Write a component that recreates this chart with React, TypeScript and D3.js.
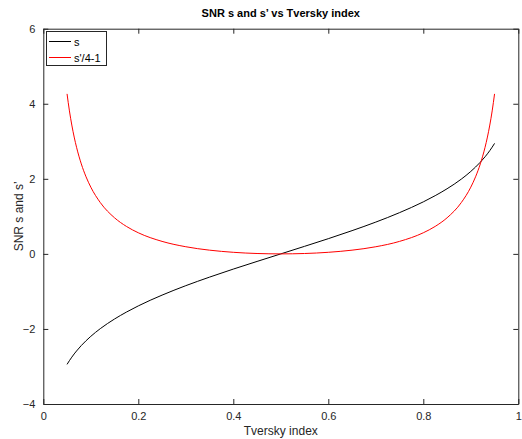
import React, { useEffect, useRef } from 'react';
import * as d3 from 'd3';

// Tversky index samples
const tversky = [
  0.05, 0.055, 0.06, 0.065, 0.07, 0.08, 0.09, 0.1, 0.12, 0.15, 0.175, 0.2, 0.25, 0.3, 0.35, 0.4, 0.45, 0.5,
  0.55, 0.6, 0.65, 0.7, 0.75, 0.8, 0.825, 0.85, 0.88, 0.9, 0.91, 0.92, 0.93, 0.935, 0.94, 0.945, 0.95,
];
// s (black)
const sValues = [
  -2.944, -2.844, -2.752, -2.666, -2.587, -2.442, -2.314, -2.197, -1.992, -1.735, -1.551, -1.386, -1.099,
  -0.847, -0.619, -0.405, -0.201, 0,
  0.201, 0.405, 0.619, 0.847, 1.099, 1.386, 1.551, 1.735, 1.992, 2.197, 2.314, 2.442, 2.587, 2.666, 2.752,
  2.844, 2.944,
];
// s'/4-1 (red)
const sPrimeValues = [
  4.263, 3.81, 3.433, 3.113, 2.84, 2.397, 2.053, 1.778, 1.367, 0.961, 0.732, 0.5625, 0.333, 0.19, 0.099,
  0.042, 0.01, 0,
  0.01, 0.042, 0.099, 0.19, 0.333, 0.5625, 0.732, 0.961, 1.367, 1.778, 2.053, 2.397, 2.84, 3.113, 3.433,
  3.81, 4.263,
];
const xTicks = [0, 0.2, 0.4, 0.6, 0.8, 1];
const yTicks = [-4, -2, 0, 2, 4, 6];
const seriesNames = ['s', "s'/4-1"];
const seriesColors = ['#000000', '#ff0000'];

const W = 522;
const H = 439;
const margin = { left: 43.3, right: 3.7, top: 28.7, bottom: 35 };

const App = () => {
  const svgRef = useRef<SVGSVGElement>(null);

  useEffect(() => {
    const svg = d3.select(svgRef.current);
    svg.selectAll('*').remove();

    const x = d3.scaleLinear().domain([0, 1]).range([margin.left, W - margin.right]);
    const y = d3.scaleLinear().domain([-4, 6]).range([H - margin.bottom, margin.top]);
    const axisColor = '#262626';
    const font = 'Liberation Sans, Arial, sans-serif';

    svg.append('rect').attr('width', W).attr('height', H).attr('fill', '#fff');

    // data lines
    const series = [sValues, sPrimeValues];
    const line = d3
      .line<number>()
      .x((d, i) => x(tversky[i]))
      .y(d => y(d))
      .curve(d3.curveMonotoneX);
    series.forEach((vals, k) => {
      svg
        .append('path')
        .datum(vals)
        .attr('d', line)
        .attr('fill', 'none')
        .attr('stroke', seriesColors[k])
        .attr('stroke-width', 1);
    });

    // axes box with inward ticks
    const tickLen = 5;
    const bottom = svg.append('g').attr('transform', `translate(0,${y(-4)})`)
      .call(d3.axisBottom(x).tickValues(xTicks).tickSizeInner(-tickLen).tickSizeOuter(0).tickPadding(8).tickFormat(d3.format('')));
    const top = svg.append('g').attr('transform', `translate(0,${y(6)})`)
      .call(d3.axisTop(x).tickValues(xTicks).tickSizeInner(-tickLen).tickSizeOuter(0).tickFormat(() => ''));
    const left = svg.append('g').attr('transform', `translate(${x(0)},0)`)
      .call(d3.axisLeft(y).tickValues(yTicks).tickSizeInner(-tickLen).tickSizeOuter(0).tickPadding(8).tickFormat(d3.format('')));
    const right = svg.append('g').attr('transform', `translate(${x(1)},0)`)
      .call(d3.axisRight(y).tickValues(yTicks).tickSizeInner(-tickLen).tickSizeOuter(0).tickFormat(() => ''));
    [bottom, top, left, right].forEach(g => {
      g.selectAll('path').attr('stroke', axisColor).attr('stroke-width', 1);
      g.selectAll('line').attr('stroke', axisColor).attr('stroke-width', 1);
      g.selectAll('text').attr('fill', axisColor).style('font-family', font).style('font-size', '11px');
    });
    bottom.selectAll('text').text((d: any) => (d === 0 || d === 1 ? String(d) : String(d).replace(/^0/, '0')));

    // labels
    svg.append('text').attr('x', (x(0) + x(1)) / 2).attr('y', 17).attr('text-anchor', 'middle')
      .style('font-family', font).style('font-size', '11px').style('font-weight', 'bold').attr('fill', '#000')
      .text("SNR s and s\u2019 vs Tversky index");
    svg.append('text').attr('x', (x(0) + x(1)) / 2).attr('y', 435).attr('text-anchor', 'middle')
      .style('font-family', font).style('font-size', '12px').attr('fill', axisColor)
      .text('Tversky index');
    svg.append('text').attr('transform', `translate(23,${(y(-4) + y(6)) / 2}) rotate(-90)`).attr('text-anchor', 'middle')
      .style('font-family', font).style('font-size', '12px').attr('fill', axisColor)
      .text("SNR s and s\u2019");

    // legend
    const lg = svg.append('g');
    lg.append('rect').attr('x', 46.5).attr('y', 31.5).attr('width', 60).attr('height', 34)
      .attr('fill', '#fff').attr('stroke', axisColor).attr('stroke-width', 1);
    seriesNames.forEach((name, k) => {
      const yy = 41.5 + k * 16;
      lg.append('line').attr('x1', 49).attr('x2', 71).attr('y1', yy).attr('y2', yy)
        .attr('stroke', seriesColors[k]).attr('stroke-width', 1);
      lg.append('text').attr('x', 74).attr('y', yy + 4).style('font-family', font).style('font-size', '11px')
        .attr('fill', '#000').text(name);
    });
  }, []);

  return (
    <div style={{ position: 'fixed', left: 0, top: 0 }}>
      <svg ref={svgRef} width={W} height={H} style={{ display: 'block' }}></svg>
    </div>
  );
};

export default App;
